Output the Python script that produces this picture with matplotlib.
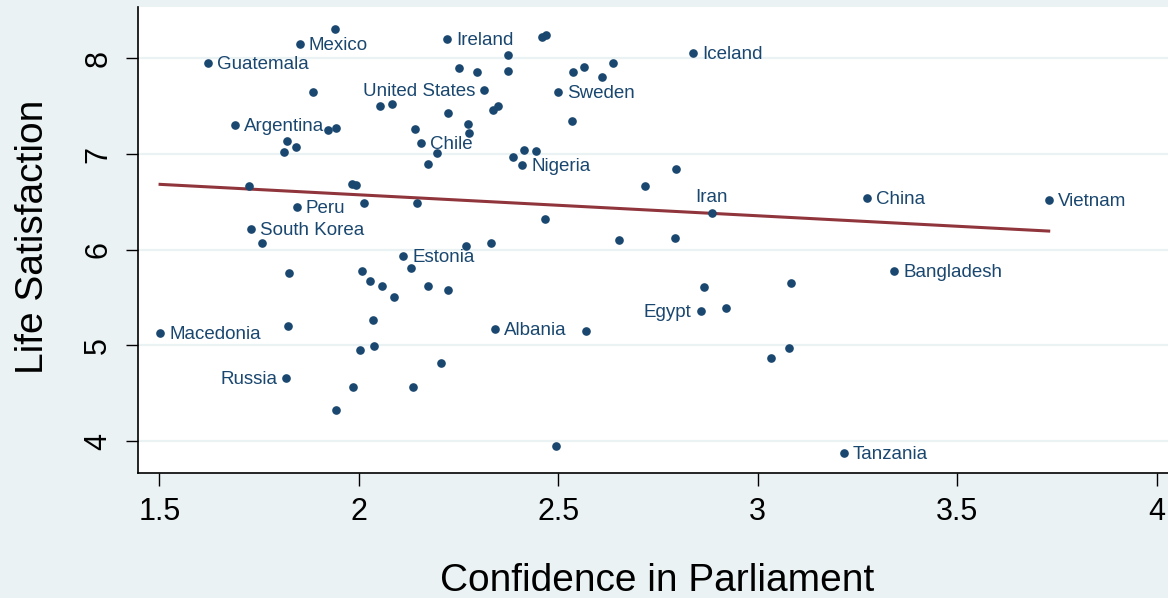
import numpy as np
import matplotlib
matplotlib.use("Agg")
import matplotlib.pyplot as plt

# country-level averages: confidence in parliament vs. life satisfaction
confidence = [
    1.941, 1.852, 1.623, 2.222, 2.374, 2.250, 2.296, 2.374, 1.884, 2.314,
    2.054, 2.083, 2.224, 2.337, 2.349, 1.690, 1.923, 1.943, 2.142, 2.273,
    2.277, 1.821, 1.842, 1.812, 2.156, 2.195, 2.173, 2.386, 2.415, 2.410,
    1.725, 1.983, 1.992, 1.844, 2.014, 2.145, 1.730, 1.758, 2.269, 2.331,
    2.458, 2.470, 2.537, 2.564, 2.609, 2.636, 2.837, 2.500, 2.534, 2.443,
    2.796, 2.717, 2.885, 3.273, 2.466, 2.651, 2.792, 3.729, 2.112, 2.130,
    1.824, 2.009, 2.029, 2.057, 2.087, 2.173, 2.224, 2.036, 1.823, 1.502,
    2.342, 2.003, 2.039, 2.207, 1.818, 1.986, 2.135, 1.944, 2.866, 3.083,
    3.342, 2.857, 2.921, 2.570, 3.032, 3.079, 2.494, 3.215,
]
satisfaction = [
    8.306, 8.149, 7.954, 8.200, 8.031, 7.895, 7.857, 7.870, 7.648, 7.669,
    7.502, 7.526, 7.428, 7.457, 7.502, 7.303, 7.254, 7.275, 7.264, 7.310,
    7.216, 7.133, 7.073, 7.021, 7.118, 7.014, 6.896, 6.966, 7.042, 6.882,
    6.669, 6.683, 6.676, 6.443, 6.488, 6.488, 6.220, 6.067, 6.039, 6.067,
    8.219, 8.247, 7.854, 7.909, 7.808, 7.954, 8.052, 7.648, 7.345, 7.035,
    6.840, 6.663, 6.380, 6.540, 6.321, 6.101, 6.125, 6.519, 5.937, 5.806,
    5.760, 5.774, 5.676, 5.624, 5.503, 5.624, 5.576, 5.269, 5.206, 5.126,
    5.171, 4.955, 4.997, 4.816, 4.656, 4.562, 4.562, 4.322, 5.607, 5.655,
    5.780, 5.363, 5.394, 5.150, 4.865, 4.976, 3.952, 3.873,
]
names = [
    "", "Mexico", "Guatemala", "Ireland", "", "", "", "", "", "United States",
    "", "", "", "", "", "Argentina", "", "", "", "",
    "", "", "", "", "Chile", "", "", "", "", "Nigeria",
    "", "", "", "Peru", "", "", "South Korea", "", "", "",
    "", "", "", "", "", "", "Iceland", "Sweden", "", "",
    "", "", "Iran", "China", "", "", "", "Vietnam", "Estonia", "",
    "", "", "", "", "", "", "", "", "", "Macedonia",
    "Albania", "", "", "", "Russia", "", "", "", "", "",
    "Bangladesh", "Egypt", "", "", "", "", "", "Tanzania",
]
# label position around the marker (clock convention, 3 = right)
label_left = {"United States", "Russia", "Egypt"}
label_above = {"Iran"}

# fitted values at the ends of the x range
fit_x = [1.502, 3.729]
fit_y = [6.683, 6.195]

x_ticks = [1.5, 2, 2.5, 3, 3.5, 4]
x_ticklabels = ["1.5", "2", "2.5", "3", "3.5", "4"]
y_ticks = [4, 5, 6, 7, 8]

BG = "#eaf2f3"
NAVY = "#1a476f"
MAROON = "#90353b"

plt.rcParams["font.family"] = ["Liberation Sans", "DejaVu Sans"]

fig = plt.figure(figsize=(11.68, 5.98), dpi=100, facecolor=BG)
ax = fig.add_axes([0.1184, 0.2085, 1 - 0.1184, 0.9875 - 0.2085])
ax.set_facecolor("white")

ax.set_xlim(1.4474, 4.028)
ax.set_ylim(3.664, 8.531)
ax.set_yticks(y_ticks)
ax.set_xticks(x_ticks)
ax.set_xticklabels(x_ticklabels)
ax.grid(axis="y", color=BG, linewidth=1.6)
ax.set_axisbelow(True)

for side in ("top", "right"):
    ax.spines[side].set_visible(False)
for side in ("left", "bottom"):
    ax.spines[side].set_color("black")
    ax.spines[side].set_linewidth(1.2)

ax.tick_params(axis="both", length=9, width=1.0, color="black",
               labelsize=22, labelcolor="black")
ax.tick_params(axis="x", pad=8)
ax.tick_params(axis="y", pad=9)
for lbl in ax.get_yticklabels():
    lbl.set_rotation(90)
    lbl.set_va("center")

ax.plot(confidence, satisfaction, "o", color=NAVY, ms=5.2, mec=NAVY, zorder=3)
ax.plot(fit_x, fit_y, "-", color=MAROON, lw=2.2, zorder=2)

for cx, cy, name in zip(confidence, satisfaction, names):
    if not name:
        continue
    if name in label_left:
        ax.annotate(name, (cx, cy), xytext=(-6.5, -1), textcoords="offset points",
                    ha="right", va="center", fontsize=13.5, color=NAVY)
    elif name in label_above:
        ax.annotate(name, (cx, cy), xytext=(0, 5.5), textcoords="offset points",
                    ha="center", va="bottom", fontsize=13.5, color=NAVY)
    else:
        ax.annotate(name, (cx, cy), xytext=(6.5, -1), textcoords="offset points",
                    ha="left", va="center", fontsize=13.5, color=NAVY)

fig.text(657.5 / 1168, (598 - 590.7) / 598, "Confidence in Parliament",
         ha="center", va="baseline", fontsize=28, color="black")
fig.text(43 / 1168, 1 - 237 / 598, "Life Satisfaction", rotation=90,
         rotation_mode="anchor", ha="center", va="baseline",
         fontsize=28, color="black")

fig.savefig("out.png", dpi=100, facecolor=BG)
